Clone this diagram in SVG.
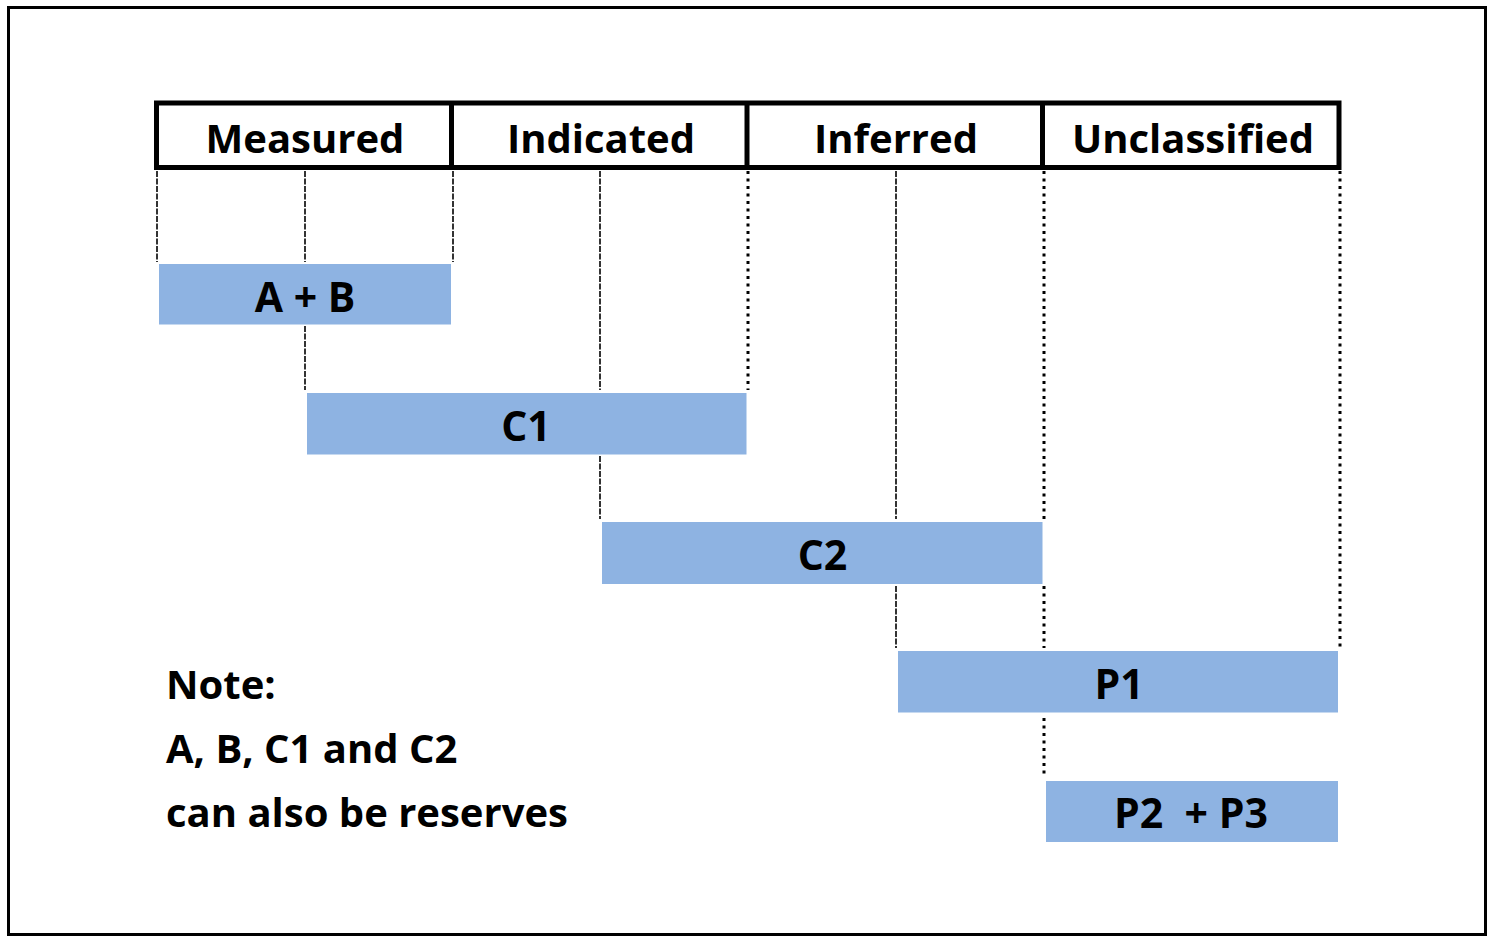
<svg xmlns="http://www.w3.org/2000/svg" width="1490" height="936" viewBox="0 0 1490 936">
<style>
.hdr{font-family:"Open Sans","Liberation Sans",sans-serif;font-weight:700;font-size:40px;fill:#000;text-anchor:middle}
.lbl{font-family:"Open Sans","Liberation Sans",sans-serif;font-weight:700;font-size:41px;fill:#000;text-anchor:middle}
.note{font-family:"Open Sans","Liberation Sans",sans-serif;font-weight:700;font-size:40px;fill:#000}
.bar{fill:#8EB3E2}
.thin{stroke:#333;stroke-width:2;stroke-dasharray:6 1.5;fill:none}
.dot{stroke:#000;stroke-width:3;stroke-dasharray:3 4.5;fill:none}
</style>
<rect width="1490" height="936" fill="#fff"/>
<rect x="8.5" y="7.5" width="1477" height="927" fill="none" stroke="#000" stroke-width="3"/>
<g id="connectors">
<line class="thin" x1="157" y1="171" x2="157" y2="262"/>
<line class="thin" x1="305" y1="171" x2="305" y2="262"/>
<line class="thin" x1="305" y1="326" x2="305" y2="390"/>
<line class="thin" x1="453" y1="171" x2="453" y2="262"/>
<line class="thin" x1="600" y1="171" x2="600" y2="390"/>
<line class="thin" x1="600" y1="456" x2="600" y2="519"/>
<line class="dot" x1="748" y1="171" x2="748" y2="390"/>
<line class="thin" x1="896" y1="171" x2="896" y2="519"/>
<line class="thin" x1="896" y1="586" x2="896" y2="648"/>
<line class="dot" x1="1044" y1="171" x2="1044" y2="519"/>
<line class="dot" x1="1044" y1="586" x2="1044" y2="648"/>
<line class="dot" x1="1044" y1="718" x2="1044" y2="776"/>
<line class="dot" x1="1340" y1="171" x2="1340" y2="648"/>
</g>
<g id="header">
<rect x="156.5" y="103" width="1182.5" height="64.5" fill="none" stroke="#000" stroke-width="5"/>
<line x1="451.5" y1="103" x2="451.5" y2="167.5" stroke="#000" stroke-width="5"/>
<line x1="747" y1="103" x2="747" y2="167.5" stroke="#000" stroke-width="5"/>
<line x1="1042.5" y1="103" x2="1042.5" y2="167.5" stroke="#000" stroke-width="5"/>
<text class="hdr" x="305" y="153">Measured</text>
<text class="hdr" x="601" y="153">Indicated</text>
<text class="hdr" x="896" y="153">Inferred</text>
<text class="hdr" x="1193" y="153">Unclassified</text>
</g>
<g id="ab"><rect class="bar" x="159" y="264" width="292" height="60.5"/><text class="lbl" x="305" y="312">A + B</text></g>
<g id="c1"><rect class="bar" x="307" y="393" width="439.5" height="61.5"/><text class="lbl" x="526" y="441">C1</text></g>
<g id="c2"><rect class="bar" x="602" y="522" width="440.5" height="62"/><text class="lbl" x="822.5" y="570">C2</text></g>
<g id="p1"><rect class="bar" x="898" y="651" width="440" height="61.5"/><text class="lbl" x="1119" y="699">P1</text></g>
<g id="p2p3"><rect class="bar" x="1046" y="781" width="292" height="61"/><text class="lbl" x="1191" y="828" xml:space="preserve">P2  + P3</text></g>
<g id="note">
<text class="note" x="166" y="699">Note:</text>
<text class="note" x="166" y="763">A, B, C1 and C2</text>
<text class="note" x="166" y="827">can also be reserves</text>
</g>
</svg>
